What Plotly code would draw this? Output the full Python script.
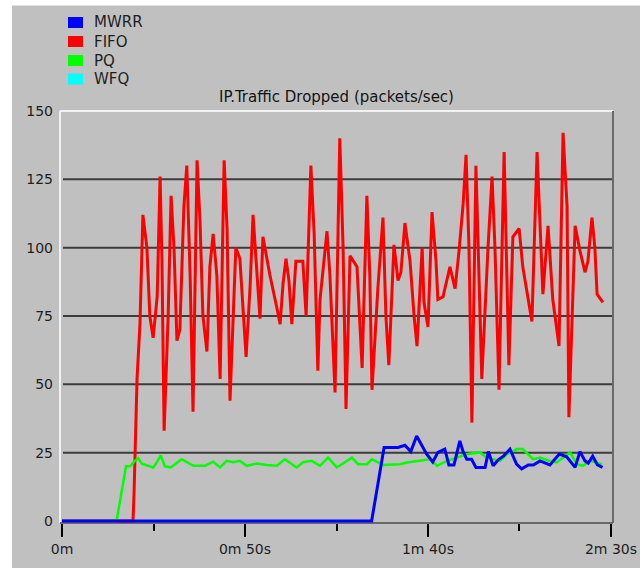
import plotly.graph_objects as go

# ---------------- data (time in seconds, packets/sec) ----------------
series_names = ["MWRR", "FIFO", "PQ", "WFQ"]
series_colors = ["#0000FF", "#FF0000", "#00FF00", "#00FFFF"]

fifo_t = [0, 19.4, 19.7, 20.2, 20.5, 21.3, 22.1, 23.2, 24.0, 24.9, 26.0, 26.8, 27.3, 27.9,
          29.0, 29.8, 30.6, 31.4, 32.2, 33.3, 34.1, 35.0, 35.8, 36.9, 37.7, 38.5, 39.6,
          40.4, 41.3, 42.3, 43.2, 44.3, 45.1, 45.9, 47.5, 48.6, 50.3, 51.4, 52.2, 53.0,
          54.1, 54.9, 55.7, 56.8, 58.7, 59.6, 60.4, 61.2, 62.0, 62.8, 63.9, 65.8, 66.7,
          68.0, 68.9, 69.9, 70.5, 72.4, 73.2, 74.6, 75.9, 76.8, 77.6, 78.7, 80.6, 81.4,
          82.0, 83.3, 84.1, 84.7, 86.3, 87.7, 88.5, 89.3, 90.7, 91.8, 92.6, 93.7, 95.1,
          96.2, 97.0, 98.4, 98.9, 100.0, 101.1, 102.2, 102.7, 104.1, 105.2, 106.0, 107.4,
          108.5, 109.6, 110.4, 111.2, 112.0, 113.1, 113.9, 114.7, 116.4, 117.5, 118.3,
          119.4, 120.8, 121.6, 122.1, 123.2, 124.9, 125.9, 128.4, 129.8, 130.6, 131.4,
          132.8, 134.1, 135.8, 136.9, 138.0, 138.5, 140.2, 141.5, 142.9, 143.7, 144.8,
          145.6, 146.2, 147.8]
fifo_v = [0, 0, 11, 32, 52, 72, 112, 100, 75, 67, 82, 126, 96, 33,
          75, 119, 100, 66, 70, 115, 130, 90, 40, 132, 110, 75, 62,
          93, 105, 90, 52, 132, 107, 44, 100, 96, 60, 86, 112, 96,
          74, 104, 98, 90, 78, 72, 87, 96, 88, 72, 95, 95, 75,
          130, 105, 55, 81, 106, 90, 47, 140, 100, 41, 97, 93, 70,
          56, 119, 90, 48, 85, 111, 75, 57, 101, 88, 91, 109, 95,
          75, 64, 100, 80, 71, 113, 95, 81, 82, 89, 93, 85,
          99, 116, 134, 100, 36, 130, 95, 52, 100, 126, 100,
          48, 135, 90, 57, 104, 107, 93, 73, 135, 111, 83,
          108, 81, 64, 142, 115, 38, 108, 99, 91, 95, 111,
          100, 83, 80]

pq_t = [0, 14.9, 17.5, 18.6, 19.9, 20.8, 21.8, 23.6, 24.9, 25.7, 27.0, 28.1, 29.7, 32.7,
        35.9, 39.1, 41.3, 43.2, 45.0, 46.8, 48.6, 50.5, 53.2, 55.9, 58.7, 60.9, 64.1,
        65.9, 68.2, 70.5, 72.7, 75.1, 79.2, 80.9, 83.3, 84.7, 87.7, 92.3, 94.3, 100.5,
        102.5, 105.2, 107.9, 110.7, 114.2, 116.1, 119.7, 121.6, 124.3, 125.9, 128.7,
        130.6, 133.3, 135.2, 138.8, 140.7, 142.3, 144.3, 147.5]
pq_v = [0, 0, 20, 20, 22, 23, 21, 20.2, 19.6, 21, 24, 20, 19.6, 22.6,
        20.2, 20.2, 21.7, 19.6, 22, 21.5, 22, 20.2, 21, 20.5, 20.2, 22.6, 19.6,
        21.5, 22, 20.2, 23.2, 19.6, 23.2, 20.8, 20.8, 22.6, 20.5, 20.8, 21.4, 22.6,
        20.2, 22.0, 23.2, 24.5, 25.1, 23.2, 22.0, 24.5, 26.3, 26.3, 22.6,
        23.2, 22.0, 21.4, 25.1, 20.8, 20.2, 22.0, 20.8]

mwrr_t = [0, 84.6, 88.0, 91.8, 93.7, 95.3, 96.9, 98.3, 99.6, 101.3, 102.7, 104.6, 105.7,
          107.1, 108.7, 109.6, 110.6, 111.9, 113.1, 115.6, 116.5, 117.8, 119.2, 120.6,
          122.4, 124.2, 125.6, 127.4, 128.8, 130.6, 133.3, 135.9, 137.9, 140.2, 141.5,
          142.9, 143.8, 145.0, 146.3, 147.7]
mwrr_v = [0, 0, 26.9, 26.9, 27.7, 25.4, 31.1, 27.4, 24.5, 21.6, 25.1, 26.3, 20.5,
          20.5, 29.3, 25.4, 22.6, 22.6, 19.6, 19.6, 25.4, 20.2, 22.4, 23.7,
          26.3, 20.8, 19.1, 20.5, 20.5, 22.0, 20.5, 24.5, 23.5, 19.6, 25.4,
          22.0, 21.2, 23.7, 20.5, 19.6]

wfq_t = []
wfq_v = []

x_tick_vals = [0, 50, 100, 150]
x_tick_text = ["0m", "0m 50s", "1m 40s", "2m 30s"]
x_minor_vals = [25, 75, 125]
y_tick_vals = [0, 25, 50, 75, 100, 125, 150]
grid_vals = [25, 50, 75, 100, 125]
title_text = "IP.Traffic Dropped (packets/sec)"

# ---------------- layout geometry ----------------
W, H = 640, 568
ML, MR, MT, MB = 60, 27, 111, 45
PW, PH = W - ML - MR, H - MT - MB


def px_x(px):
    return (px - ML) / PW


def px_y(py):
    return (H - MB - py) / PH


FONT = "DejaVu Sans"
BG = "#C0C0C0"

fig = go.Figure()
data = {
    "MWRR": (mwrr_t, mwrr_v, 3),
    "FIFO": (fifo_t, fifo_v, 3),
    "PQ": (pq_t, pq_v, 2.5),
    "WFQ": (wfq_t, wfq_v, 2.5),
}
for name in ["FIFO", "PQ", "WFQ", "MWRR"]:
    t, v, w = data[name]
    col = series_colors[series_names.index(name)]
    fig.add_trace(go.Scatter(x=t, y=v, mode="lines", name=name,
                             line=dict(color=col, width=w),
                             showlegend=False, hoverinfo="skip"))

shapes = []
# grey panel on white page
shapes.append(dict(type="rect", xref="paper", yref="paper", layer="below",
                   x0=px_x(12), x1=px_x(W + 20), y0=px_y(H + 20), y1=px_y(5),
                   fillcolor=BG, line=dict(width=0)))
shapes.append(dict(type="line", xref="paper", yref="paper", layer="below",
                   x0=px_x(12), x1=px_x(W + 20), y0=px_y(5.5), y1=px_y(5.5),
                   line=dict(color="#E0E0E0", width=1)))
# gridlines
for g in grid_vals:
    shapes.append(dict(type="line", xref="paper", yref="y", layer="below",
                       x0=px_x(63), x1=px_x(612), y0=g, y1=g,
                       line=dict(color="#3C3C3C", width=2)))
# sunken frame
shapes.append(dict(type="line", xref="paper", yref="paper", layer="below",
                   x0=0, x1=0, y0=0, y1=1, line=dict(color="#F2F2F2", width=2)))
shapes.append(dict(type="line", xref="paper", yref="paper", layer="below",
                   x0=0, x1=1, y0=1, y1=1, line=dict(color="#F2F2F2", width=2)))
shapes.append(dict(type="line", xref="paper", yref="paper", layer="below",
                   x0=1, x1=1, y0=0, y1=1, line=dict(color="#6A6A6A", width=2)))
shapes.append(dict(type="line", xref="paper", yref="paper", layer="below",
                   x0=0, x1=1, y0=0, y1=0, line=dict(color="#6A6A6A", width=2)))

annotations = []
# legend
leg_y = [22.5, 41.5, 60.5, 79.0]
for name, col, cy in zip(series_names, series_colors, leg_y):
    shapes.append(dict(type="rect", xref="paper", yref="paper",
                       x0=px_x(68), x1=px_x(83), y0=px_y(cy + 5.5), y1=px_y(cy - 5.5),
                       fillcolor=col, line=dict(width=0)))
    annotations.append(dict(text=name, xref="paper", yref="paper",
                            x=px_x(92), y=px_y(cy), xanchor="left", yanchor="middle",
                            showarrow=False,
                            font=dict(family=FONT, size=15, color="#1E1E1E")))

fig.update_layout(
    width=W, height=H, autosize=False,
    margin=dict(l=ML, r=MR, t=MT, b=MB, pad=0, autoexpand=False),
    paper_bgcolor="white",
    plot_bgcolor=BG,
    shapes=shapes,
    annotations=annotations,
    title=dict(text=title_text, x=0.5, xref="paper", xanchor="center",
               y=1 - 97 / H, yref="container", yanchor="middle",
               font=dict(family=FONT, size=15, color="#141414")),
    showlegend=False,
    xaxis=dict(range=[-0.55, 150.55], tickvals=x_tick_vals, ticktext=x_tick_text,
               showgrid=False, zeroline=False, showline=False, automargin=False,
               ticks="outside", ticklen=13, tickwidth=2, tickcolor="#000000",
               tickfont=dict(family=FONT, size=14, color="#1E1E1E"),
               minor=dict(tickvals=x_minor_vals, ticks="outside", ticklen=7,
                          tickwidth=2, tickcolor="#000000", showgrid=False),
               fixedrange=True),
    yaxis=dict(range=[-0.73, 150], tickvals=y_tick_vals, automargin=False,
               showgrid=False, zeroline=False, showline=False, ticks="",
               ticklabelstandoff=6,
               tickfont=dict(family=FONT, size=14, color="#1E1E1E"),
               fixedrange=True),
)

fig.write_html("out.html", config={"displayModeBar": False, "responsive": False},
               post_script="document.body.style.margin='0';document.body.style.overflow='hidden';")
